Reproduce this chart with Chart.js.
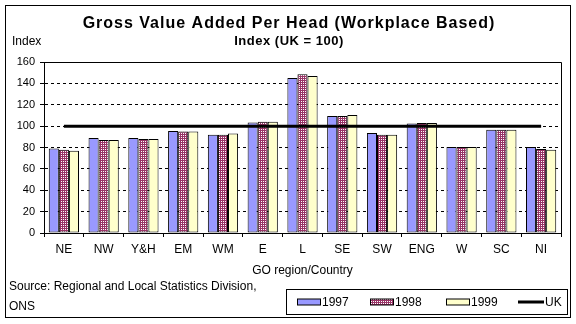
<!DOCTYPE html>
<html>
<head>
<meta charset="utf-8">
<script src="https://cdn.jsdelivr.net/npm/chart.js@4/dist/chart.umd.min.js"></script>
<style>
  html, body { margin: 0; padding: 0; background: #fff; }
  #wrap { width: 576px; height: 324px; }
</style>
</head>
<body>
<div id="wrap"><canvas id="gva" width="576" height="324"></canvas></div>
<script>
// values
const regions = ['NE', 'NW', 'Y&H', 'EM', 'WM', 'E', 'L', 'SE', 'SW', 'ENG', 'W', 'SC', 'NI'];
const gva1997 = [79, 89, 89, 95.5, 92, 103.5, 145, 109.5, 93.5, 102.5, 80.5, 96.5, 80.5];
const gva1998 = [78, 87, 88, 95, 92, 104, 148.5, 109.5, 92, 103, 80.5, 96.5, 78.5];
const gva1999 = [77, 87, 88, 95, 93, 104, 147, 110.5, 92, 103, 80.5, 96.5, 78];
const ukLevel = [100, 100, 100, 100, 100, 100, 100, 100, 100, 100, 100, 100, 100];
const yTicks = [0, 20, 40, 60, 80, 100, 120, 140, 160];

const FONT = 'Liberation Sans, Arial, sans-serif';

// dotted maroon fill used for the 1998 bars
function checkerPattern() {
  const c = document.createElement('canvas');
  c.width = 2; c.height = 2;
  const g = c.getContext('2d');
  g.fillStyle = '#993366';
  g.fillRect(0, 0, 2, 2);
  g.fillStyle = '#ffffff';
  g.fillRect(1, 1, 1, 1);
  return g.createPattern(c, 'repeat');
}
const ctx = document.getElementById('gva').getContext('2d');
const pattern1998 = checkerPattern();

// frame, texts and the boxed legend, drawn the Excel way
const decor = {
  id: 'decor',
  beforeDraw(chart) {
    const c = chart.ctx;
    c.save();
    c.fillStyle = '#fff';
    c.fillRect(0, 0, chart.width, chart.height);
    c.restore();
  },
  afterDatasetsDraw(chart) {
    const c = chart.ctx;
    const a = chart.chartArea;
    c.save();
    c.strokeStyle = '#000';
    c.lineWidth = 1;
    // plot frame top/right
    c.beginPath();
    c.moveTo(Math.round(a.left) + 0.5, Math.round(a.top) + 0.5);
    c.lineTo(Math.round(a.right) + 0.5, Math.round(a.top) + 0.5);
    c.lineTo(Math.round(a.right) + 0.5, Math.round(a.bottom) + 0.5);
    c.stroke();
    c.restore();
  },
  afterDraw(chart) {
    const c = chart.ctx;
    const a = chart.chartArea;
    c.save();
    c.strokeStyle = '#000';
    c.lineWidth = 1;
    c.strokeRect(5.5, 5.5, 565, 312);

    c.fillStyle = '#000';
    c.textBaseline = 'alphabetic';
    c.textAlign = 'center';
    c.letterSpacing = '1px';
    c.font = 'bold 16px ' + FONT;
    c.fillText('Gross Value Added Per Head (Workplace Based)', 289, 28);
    c.letterSpacing = '0.5px';
    c.font = 'bold 13px ' + FONT;
    c.fillText('Index (UK = 100)', 289, 45);
    c.letterSpacing = '0px';

    c.font = '12px ' + FONT;
    c.fillText('GO region/Country', (a.left + a.right) / 2, 274);

    c.textAlign = 'left';
    c.fillText('Index', 12, 45);
    c.fillText('Source: Regional and Local Statistics Division,', 9, 290);
    c.fillText('ONS', 9, 310);

    // legend box
    const bx = 286, by = 289, bw = 281, bh = 25;
    c.strokeRect(bx + 0.5, by + 0.5, bw, bh);
    const my = by + bh / 2 + 0.5;
    c.textBaseline = 'middle';
    const ds = chart.data.datasets;
    const slots = [297, 370, 446, 518];
    ds.forEach((d, i) => {
      const x = slots[i];
      if (d.type === 'line') {
        c.fillStyle = '#000';
        c.fillRect(x, my - 1.5, 26, 3);
      } else {
        c.fillStyle = d.backgroundColor;
        c.fillRect(x, my - 3, 23, 6);
        c.strokeRect(x + 0.5, my - 3, 23, 6);
      }
      c.fillStyle = '#000';
      c.fillText(d.label, x + (d.type === 'line' ? 27 : 25), my + 1);
    });
    c.restore();
  }
};

const barStyle = { borderColor: '#000', borderWidth: 1, borderSkipped: false, barPercentage: 1, categoryPercentage: 0.76 };

new Chart(ctx, {
  type: 'bar',
  data: {
    labels: regions,
    datasets: [
      { label: '1997', data: gva1997, backgroundColor: '#9999ff', ...barStyle, order: 2 },
      { label: '1998', data: gva1998, backgroundColor: pattern1998, ...barStyle, order: 2 },
      { label: '1999', data: gva1999, backgroundColor: '#ffffcc', ...barStyle, order: 2 },
      { label: 'UK', type: 'line', data: ukLevel, borderColor: '#000', borderWidth: 3,
        pointRadius: 0, fill: false, order: 1 }
    ]
  },
  options: {
    responsive: false,
    animation: false,
    layout: { padding: { top: 62, right: 15, left: 0, bottom: 0 } },
    plugins: {
      legend: { display: false },
      tooltip: { enabled: false }
    },
    scales: {
      x: {
        offset: true,
        grid: { display: true, offset: true, drawOnChartArea: false, color: '#000', tickLength: 4, tickColor: '#000' },
        border: { color: '#000' },
        ticks: { color: '#000', font: { family: FONT, size: 12 }, padding: 5, maxRotation: 0, autoSkip: false },
        afterFit(s) { s.height = 91; }
      },
      y: {
        min: 0, max: 160,
        afterBuildTicks(s) { s.ticks = yTicks.map(v => ({ value: v })); },
        grid: { color: '#000', tickLength: 4, tickColor: '#000' },
        border: { color: '#000', dash: [3, 3] },
        ticks: { color: '#000', font: { family: FONT, size: 11 }, padding: 5 },
        afterFit(s) { s.width = 44; }
      }
    }
  },
  plugins: [decor]
});
</script>
</body>
</html>
